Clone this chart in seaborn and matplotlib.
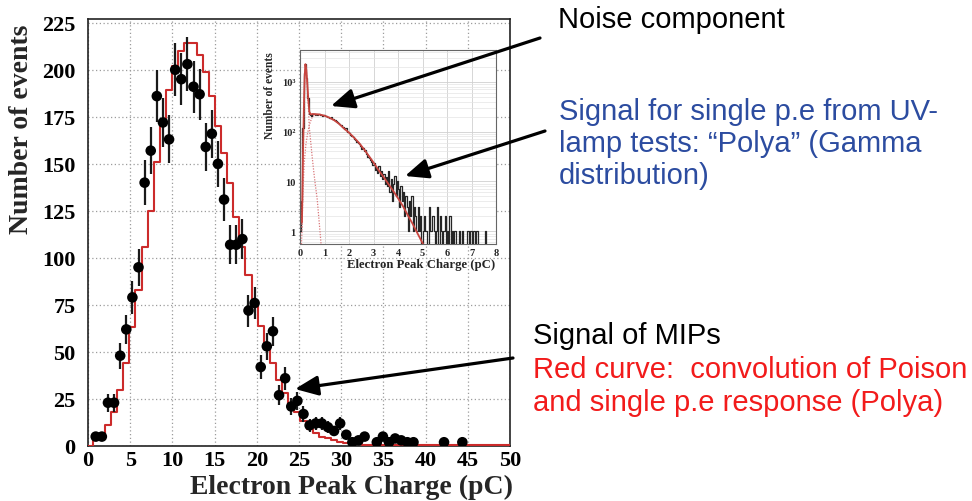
import numpy as np
import pandas as pd
import matplotlib
matplotlib.use("Agg")
import matplotlib.pyplot as plt
import seaborn as sns
from matplotlib.ticker import MultipleLocator, FixedLocator, FixedFormatter, LogLocator, NullFormatter

# ---------------- main histogram: MIP signal ----------------
first_edge = -0.17      # pC
bin_width = 0.724       # pC
data_counts = [0, 5, 5, 23, 23, 48, 62, 79, 95, 140,
               157, 186, 172, 163, 200, 195, 203, 191, 187, 159,
               166, 150, 131, 107, 107, 110, 72, 76, 42, 53,
               61, 27, 36, 21, 24, 17, 11, 12, 12, 10,
               8, 12, 6, 2, 3, 5, 0, 2, 5, 2,
               4, 3, 2, 2, 0, 0, 0, 0, 2, 0,
               0, 2, 0, 0, 0, 0, 0, 0, 0, 0]
fit_counts = [0, 3, 6, 11, 18, 30, 44, 63, 83, 106,
              125, 151, 173, 189, 202, 210, 214, 214, 208, 199,
              186, 170, 156, 140, 122, 106, 91, 77, 64, 53,
              44, 35, 28, 22, 18, 13.5, 9, 7, 5, 4,
              3, 2, 1.5, 1, 0.8, 0.7, 0.7, 0.7, 0.7, 0.7,
              0.7, 0.7, 0.7, 0.7, 0.7, 0.7, 0.7, 0.7, 0.7, 0.7,
              0.7, 0.7, 0.7, 0.7, 0.7, 0.7, 0.7, 0.7, 0.7, 0.7]
main_xticks = [0, 5, 10, 15, 20, 25, 30, 35, 40, 45, 50]
main_yticks = [0, 25, 50, 75, 100, 125, 150, 175, 200, 225]

# ---------------- inset: single photo-electron spectrum ----------------
inset_width = 0.05      # pC
inset_counts = [1, 4, 120, 1500, 2300, 1200, 480, 230, 215, 205,
                220, 230, 215, 225, 218, 222, 212, 219, 206, 210,
                203, 207, 196, 200, 189, 192, 180, 178, 172, 160,
                158, 150, 141, 138, 126, 124, 112, 118, 96, 100,
                92, 84, 83, 76, 72, 69, 62, 60, 55, 51,
                44, 47, 40, 42, 35, 31, 30, 27, 25, 21,
                23, 17, 19, 15, 20, 13, 16, 11, 14, 9,
                12, 8, 16, 6, 11, 4, 9, 13, 5, 10,
                7, 3, 8, 4, 6, 2, 5, 3, 1, 4,
                2, 5, 1, 3, 2, 1, 3, 1, 2, 0,
                1, 2, 1, 1, 0, 3, 1, 1, 2, 1,
                0, 1, 3, 0, 2, 1, 0, 1, 2, 0,
                1, 0, 2, 0, 1, 0, 1, 0, 0, 0,
                1, 0, 1, 0, 0, 0, 1, 1, 0, 1,
                0, 1, 1, 0, 1, 0, 0, 0, 0, 0,
                0, 1, 0, 0, 0, 0, 0, 0, 0, 0]
total_x = [0.08, 0.12, 0.16, 0.19, 0.22, 0.26, 0.30, 0.34, 0.38, 0.44, 0.50, 0.56, 0.62,
           0.70, 0.80, 1.00, 1.20, 1.40, 1.60, 1.80, 2.00, 2.20, 2.40, 2.60, 2.80, 3.00,
           3.20, 3.40, 3.60, 3.80, 4.00, 4.20, 4.40, 4.60, 4.80, 5.00, 5.10]
total_y = [1.5, 30, 330, 1250, 2250, 1700, 890, 440, 250, 220, 225, 225, 224,
           222, 220, 208, 190, 168, 142, 115, 95, 76, 60, 45, 33, 24,
           17, 12.5, 9, 6.5, 4.6, 3.2, 2.1, 1.4, 0.9, 0.58, 0.47]
noise_x = [0.08, 0.12, 0.16, 0.19, 0.22, 0.26, 0.30, 0.34, 0.38, 0.44, 0.50, 0.56, 0.62, 0.70, 0.78, 0.86]
noise_y = [1.2, 25, 310, 1230, 2200, 1600, 800, 330, 120, 60, 30, 16, 9, 4.5, 1.6, 0.55]
polya_x = [0.06, 0.08, 0.12, 0.17, 0.24, 0.31, 0.38, 0.44, 0.50, 0.60, 0.80]
polya_y = [0.55, 1, 6, 23, 55, 92, 135, 165, 195, 215, 220]
inset_yticks = [1, 10, 100, 1000]
inset_ylabels = ["1", "10", "10²", "10³"]

W, H = 972, 502
RED = "#cc2b2b"
serif = ["Liberation Serif", "DejaVu Serif"]
sans = ["Liberation Sans", "DejaVu Sans"]

sns.set_style("white")
plt.rcParams["font.family"] = serif
plt.rcParams["font.weight"] = "bold"

fig = plt.figure(figsize=(W / 100, H / 100), dpi=100)

# ---------------- main axes ----------------
ax = fig.add_axes([88 / W, 55 / H, 422 / W, 427 / H])
n_bins = len(data_counts)
edges = first_edge + bin_width * np.arange(n_bins + 1)
centers = edges[:-1] + bin_width / 2
main_df = pd.DataFrame({"charge": centers, "data": data_counts, "fit": fit_counts})

sns.histplot(data=main_df, x="charge", weights="fit", bins=edges.tolist(), element="step",
             fill=False, color=RED, linewidth=1.5, ax=ax, zorder=3)

pts = main_df[main_df["data"] > 0]
ax.errorbar(pts["charge"], pts["data"], yerr=np.sqrt(pts["data"]), fmt="none",
            ecolor="#1a1a1a", elinewidth=1.6, capsize=0, zorder=4)
sns.scatterplot(data=pts, x="charge", y="data", color="black", s=58, edgecolor="none",
                ax=ax, zorder=5)

ax.set_xlim(0, 50)
ax.set_ylim(0, 227)
ax.set_xlabel("")
ax.set_ylabel("")
ax.xaxis.set_major_locator(FixedLocator(main_xticks))
ax.yaxis.set_major_locator(FixedLocator(main_yticks))
ax.xaxis.set_minor_locator(MultipleLocator(1))
ax.yaxis.set_minor_locator(MultipleLocator(5))
ax.tick_params(axis="both", which="major", direction="in", length=8, width=1,
               labelsize=16, colors="black")
ax.tick_params(axis="both", which="minor", direction="in", length=4, width=0.8)
ax.tick_params(axis="x", pad=3)
ax.tick_params(axis="y", pad=9)
for lab in ax.get_xticklabels() + ax.get_yticklabels():
    lab.set_fontweight("bold")
ax.grid(True, which="major", linestyle=(0, (1, 2)), color="#9c9c9c", linewidth=0.9)
ax.set_axisbelow(True)
for s in ax.spines.values():
    s.set_color("#222222")
    s.set_linewidth(1.2)

fig.text(22 / W, 1 - 25 / H, "Number of events", rotation=90, ha="center", va="top",
         fontsize=20, fontweight="bold")
fig.text(513 / W, 1 - 487 / H, "Electron Peak Charge (pC)", ha="right", va="center",
         fontsize=20, fontweight="bold")

# ---------------- inset axes ----------------
axi = fig.add_axes([300 / W, (H - 245) / H, 196 / W, 194 / H])
in_edges = inset_width * np.arange(len(inset_counts) + 1)
in_centers = in_edges[:-1] + inset_width / 2
inset_df = pd.DataFrame({"charge": in_centers, "events": inset_counts})
axi.set_yscale("log")
sns.histplot(data=inset_df, x="charge", weights="events", bins=in_edges.tolist(),
             element="step", fill=False, color="#262626", linewidth=0.9, ax=axi, zorder=3)
sns.lineplot(x=noise_x, y=noise_y, ax=axi, color="#d9777a", linewidth=0.9,
             linestyle=(0, (1, 1.2)), estimator=None, sort=False, zorder=4)
sns.lineplot(x=polya_x, y=polya_y, ax=axi, color="#d9777a", linewidth=0.9,
             linestyle=(0, (1, 1.2)), estimator=None, sort=False, zorder=4)
sns.lineplot(x=total_x, y=total_y, ax=axi, color="#c8453f", linewidth=1.3,
             estimator=None, sort=False, zorder=5)

axi.set_xlim(0, 8)
axi.set_ylim(0.555, 4325)
axi.set_xlabel("")
axi.set_ylabel("")
axi.xaxis.set_major_locator(MultipleLocator(1))
axi.yaxis.set_major_locator(FixedLocator(inset_yticks))
axi.yaxis.set_major_formatter(FixedFormatter(inset_ylabels))
axi.yaxis.set_minor_locator(LogLocator(base=10, subs=np.arange(2, 10)))
axi.yaxis.set_minor_formatter(NullFormatter())
axi.tick_params(axis="both", which="major", direction="in", length=4, width=0.7,
                labelsize=7.5, pad=3)
axi.tick_params(axis="both", which="minor", direction="in", length=2, width=0.5)
for lab in axi.get_xticklabels() + axi.get_yticklabels():
    lab.set_fontweight("bold")
axi.grid(True, which="major", color="#d0d0d0", linewidth=0.6)
axi.grid(True, which="minor", axis="y", color="#e4e4e4", linewidth=0.5)
axi.set_axisbelow(True)
for s in axi.spines.values():
    s.set_color("#666666")
    s.set_linewidth(0.8)

fig.text(270 / W, 1 - 52 / H, "Number of events", rotation=90, ha="center", va="top",
         fontsize=8.3, fontweight="bold")
fig.text(495 / W, 1 - 265 / H, "Electron Peak Charge (pC)", ha="right", va="center",
         fontsize=9.2, fontweight="bold")

# ---------------- annotations ----------------
arrow_kw = dict(arrowstyle="-|>,head_length=0.7,head_width=0.3", color="black",
                lw=2.3, mutation_scale=20, shrinkA=0, shrinkB=0)
for start, tip in [((540, 39), (331, 107)), ((545, 132), (405, 177)), ((513, 359), (295, 390))]:
    axi.annotate("", xy=(tip[0], H - tip[1]), xytext=(start[0], H - start[1]),
                 xycoords="figure pixels", textcoords="figure pixels",
                 arrowprops=arrow_kw, annotation_clip=False, zorder=10)

txt_kw = dict(fontsize=21, family=sans, fontweight="normal", va="baseline", ha="left")
fig.text(558 / W, 1 - 28 / H, "Noise component", color="black", **txt_kw)
blue = "#2c4ca0"
fig.text(559 / W, 1 - 120 / H, "Signal for single p.e from UV-", color=blue, **txt_kw)
fig.text(559 / W, 1 - 152 / H, "lamp tests: \u201cPolya\u201d (Gamma", color=blue, **txt_kw)
fig.text(559 / W, 1 - 184 / H, "distribution)", color=blue, **txt_kw)
fig.text(533 / W, 1 - 344 / H, "Signal of MIPs", color="black", **txt_kw)
fig.text(533 / W, 1 - 378 / H, "Red curve:  convolution of Poison", color="#f21b1b", **txt_kw)
fig.text(533 / W, 1 - 411 / H, "and single p.e response (Polya)", color="#f21b1b", **txt_kw)

fig.savefig("out.png", dpi=100)
